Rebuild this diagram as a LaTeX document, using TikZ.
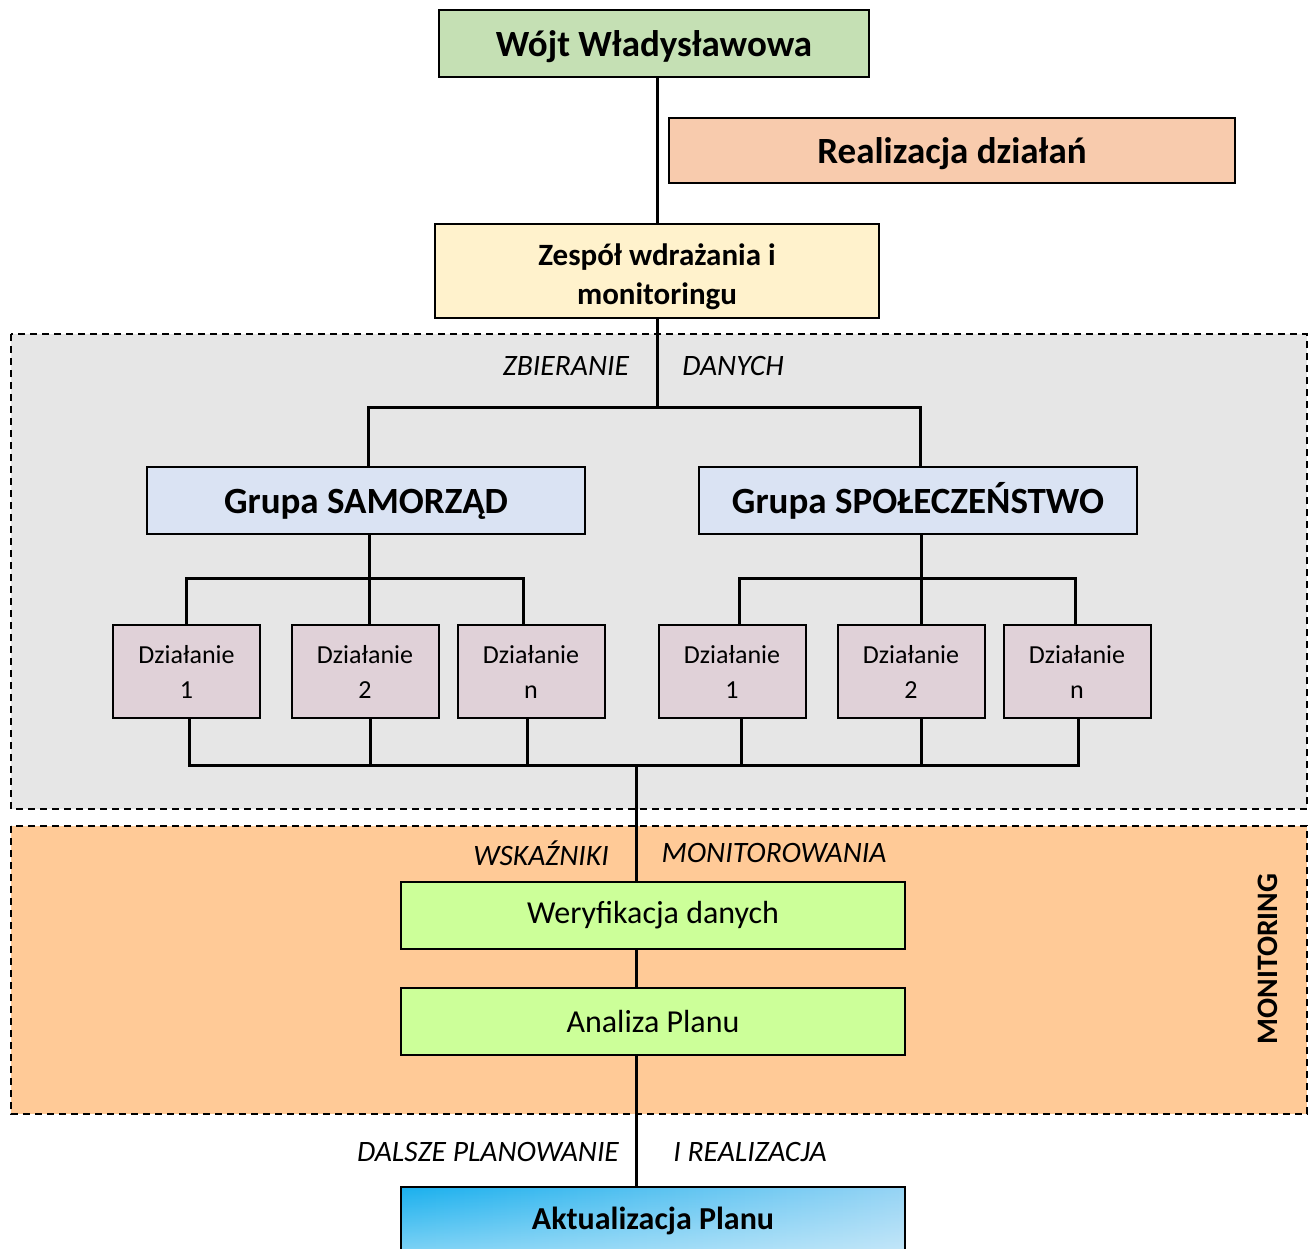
\documentclass[tikz,border=0pt]{standalone}
\usepackage{fontspec}
\setmainfont{Carlito}
\usepackage{tikz}
\usetikzlibrary{fadings}

\definecolor{wojtgreen}{HTML}{C5E0B4}
\definecolor{realorange}{HTML}{F8CBAD}
\definecolor{zespyellow}{HTML}{FFF2CC}
\definecolor{grupablue}{HTML}{DAE3F3}
\definecolor{dzialpink}{HTML}{E0D1D8}
\definecolor{zbiergray}{HTML}{E6E6E6}
\definecolor{monorange}{HTML}{FFCA97}
\definecolor{wergreen}{HTML}{CCFF99}
\definecolor{aktblue}{HTML}{1AB0EE}
\definecolor{aktlight}{HTML}{96D4F4}

\tikzset{
  box/.style={draw, line width=2pt, inner sep=0pt, align=center},
  bigtxt/.style={font=\fontsize{37}{44}\selectfont\bfseries, text height=27pt, text depth=0pt},
  conn/.style={line width=3pt},
  area/.style={dashed, line width=1.5pt, dash pattern=on 7pt off 5pt},
  lab/.style={font=\fontsize{29.6}{34}\selectfont\itshape, inner sep=0pt}
}

\begin{document}
\begin{tikzpicture}[x=1pt,y=-1pt]
\clip (0,0) rectangle (1309,1249);
%\draw[very thin,color=gray] (0,0) grid[step=100] (1309,1249);

% dashed areas
\draw[area, fill=zbiergray] (11,334) rectangle (1307,809);
\draw[area, fill=monorange] (11,826) rectangle (1307,1114);

\node(wojt) at (654,43.5)[box, bigtxt, fill=wojtgreen, minimum width=430, minimum height=67]{Wójt Władysławowa};
\node(real) at (952,150.5)[box, bigtxt, fill=realorange, minimum width=566, minimum height=65]{Realizacja działań};
\node(zesp) at (657,271)[box, fill=zespyellow, minimum width=444, minimum height=94,
  text height=68pt, text depth=0pt,
  font=\fontsize{31}{39}\selectfont\bfseries]{Zespół wdrażania i\\monitoringu};

\node(grS) at (366,500)[box, bigtxt, fill=grupablue, minimum width=438, minimum height=67]{Grupa SAMORZĄD};
\node(grP) at (918,500)[box, bigtxt, fill=grupablue, minimum width=438, minimum height=67]{Grupa SPOŁECZEŃSTWO};

% dzialania
\foreach \nm/\xx/\tx in {dS1/186.5/1, dS2/365/2, dSn/531/n, dP1/732/1, dP2/911/2, dPn/1077/n}
  \node(\nm) at (\xx,671.5)[box, fill=dzialpink, minimum width=147, minimum height=93,
    font=\fontsize{26}{35}\selectfont]{Działanie\\\tx};

\node(wer) at (653,915.5)[box, fill=wergreen, minimum width=504, minimum height=67,
  font=\fontsize{32}{38}\selectfont]{Weryfikacja danych};
\node(anal) at (653,1021.5)[box, fill=wergreen, minimum width=504, minimum height=67,
  font=\fontsize{32}{38}\selectfont]{Analiza Planu};
% gradient: left to right, lighter towards the bottom
\node(akt) at (653,1220.5)[box, left color=aktblue, right color=aktlight,
  path picture={\fill[white, fill opacity=0.45, path fading=north]
    (path picture bounding box.south west) rectangle (path picture bounding box.north east);},
  minimum width=504, minimum height=67,
  font=\fontsize{32}{38}\selectfont\bfseries]{Aktualizacja Planu};

% labels
\node(lbZb) at (566,366)[lab]{ZBIERANIE};
\node(lbDa) at (733,366)[lab]{DANYCH};
\node(lbWs) at (541,853)[lab]{WSKAŹNIKI};
\node(lbMo) at (774,853)[lab]{MONITOROWANIA};
\node(lbDp) at (488,1152)[lab]{DALSZE PLANOWANIE};
\node(lbIr) at (750,1152)[lab]{I REALIZACJA};
\node(lbMon) at (1268,959)[rotate=90, inner sep=0pt,
  font=\fontsize{29.7}{34}\selectfont\bfseries]{MONITORING};

\coordinate(topbar) at (659,407);
\coordinate(topS) at (368,407);
\coordinate(topP) at (920,407);
% upper taps
\coordinate(tS1) at (186,578);
\coordinate(tS2) at (369,578);
\coordinate(tSn) at (523,578);
\coordinate(tP1) at (739,578);
\coordinate(tP2) at (921,578);
\coordinate(tPn) at (1075,578);
% lower taps
\coordinate(bS1) at (189,765);
\coordinate(bS2) at (370,765);
\coordinate(bSn) at (527,765);
\coordinate(bP1) at (741,765);
\coordinate(bP2) at (921,765);
\coordinate(bPn) at (1078,765);
\coordinate(bot) at (636,765);

\draw[conn] (zesp.north |- wojt.south) -- (zesp.north);
\draw[conn] (zesp.south) -- (zesp.south |- topbar);
\draw[conn] (topS |- grS.north) -- (topS) -- (topP) -- (topP |- grP.north);

\draw[conn] (tS1 |- dS1.north) -- (tS1) -- (tSn) -- (tSn |- dSn.north);
\draw[conn] (tS2 |- grS.south) -- (tS2 |- dS2.north);
\draw[conn] (tP1 |- dP1.north) -- (tP1) -- (tPn) -- (tPn |- dPn.north);
\draw[conn] (tP2 |- grP.south) -- (tP2 |- dP2.north);

\draw[conn] (bS1 |- dS1.south) -- (bS1) -- (bPn) -- (bPn |- dPn.south);
\draw[conn] (bS2 |- dS2.south) -- (bS2);
\draw[conn] (bSn |- dSn.south) -- (bSn);
\draw[conn] (bP1 |- dP1.south) -- (bP1);
\draw[conn] (bP2 |- dP2.south) -- (bP2);

\draw[conn] (bot) -- (bot |- wer.north);
\draw[conn] (bot |- wer.south) -- (bot |- anal.north);
\draw[conn] (bot |- anal.south) -- (bot |- akt.north);

\end{tikzpicture}
\end{document}
